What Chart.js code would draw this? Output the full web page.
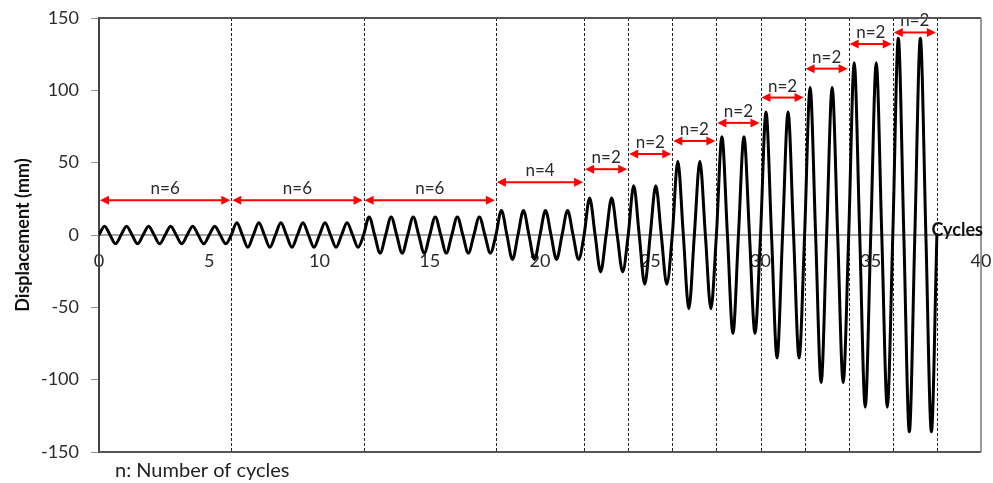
<!DOCTYPE html>
<html><head><meta charset="utf-8">
<script src="https://cdn.jsdelivr.net/npm/chart.js@4.4.1/dist/chart.umd.min.js"></script>
<style>html,body{margin:0;padding:0;background:#fff;} #wrap{width:993px;height:483px;}</style>
</head><body><div id="wrap"><canvas id="c" width="993" height="483"></canvas></div>
<script>
// ---- data ----
const groupStarts     = [0, 6, 12, 18, 22, 24, 26, 28, 30, 32, 34, 36];
const groupEnds       = [6, 12, 18, 22, 24, 26, 28, 30, 32, 34, 36, 38];
const groupCycles     = [6, 6, 6, 4, 2, 2, 2, 2, 2, 2, 2, 2];
const groupAmplitudes = [6, 8.5, 12.5, 17, 25.5, 34, 51, 68, 85, 102, 119, 136];
const arrowLevels     = [24, 24, 24, 36.5, 45.5, 56, 65, 77.5, 95, 115, 132, 140];
const arrowLabels     = ["n=6","n=6","n=6","n=4","n=2","n=2","n=2","n=2","n=2","n=2","n=2","n=2"];
const quarterPhases   = [0, 0.25, 0.5, 0.75];   // zero, peak, zero, trough within one cycle
const quarterSigns    = [0, 1, 0, -1];
const xTicks = [0, 5, 10, 15, 20, 25, 30, 35, 40];
const yTicks = [-150, -100, -50, 0, 50, 100, 150];

// displacement history table built from the values above
const history = [];
groupStarts.forEach((s, g) => {
  for (let c = 0; c < groupCycles[g]; c++) {
    quarterPhases.forEach((p, k) => history.push({x: s + c + p, y: quarterSigns[k] * groupAmplitudes[g]}));
  }
});
history.push({x: groupEnds[groupEnds.length - 1], y: 0});

const FONT = 'Lato, "Liberation Sans", sans-serif';
const TXT = '#2b2b2b';

const decor = {
  id: 'decor',
  beforeDatasetsDraw(chart) {
    const {ctx, chartArea: a, scales: {x}} = chart;
    ctx.save();
    ctx.strokeStyle = '#222';
    ctx.lineWidth = 1;
    ctx.setLineDash([3, 2]);
    groupEnds.forEach(b => {
      const px = Math.round(x.getPixelForValue(b)) + 0.5;
      ctx.beginPath(); ctx.moveTo(px, a.top); ctx.lineTo(px, a.bottom); ctx.stroke();
    });
    ctx.restore();
  },
  afterDatasetsDraw(chart) {
    const {ctx, scales: {x, y}} = chart;
    ctx.save();
    groupStarts.forEach((s, i) => {
      const x1 = x.getPixelForValue(s) + 1, x2 = x.getPixelForValue(groupEnds[i]) - 1;
      const py = y.getPixelForValue(arrowLevels[i]);
      const hl = 9, hw = 4.5;
      ctx.strokeStyle = '#ff0000'; ctx.fillStyle = '#ff0000'; ctx.lineWidth = 2;
      ctx.beginPath(); ctx.moveTo(x1 + hl - 1, py); ctx.lineTo(x2 - hl + 1, py); ctx.stroke();
      ctx.beginPath(); ctx.moveTo(x1, py); ctx.lineTo(x1 + hl, py - hw); ctx.lineTo(x1 + hl, py + hw); ctx.closePath(); ctx.fill();
      ctx.beginPath(); ctx.moveTo(x2, py); ctx.lineTo(x2 - hl, py - hw); ctx.lineTo(x2 - hl, py + hw); ctx.closePath(); ctx.fill();
      ctx.fillStyle = TXT; ctx.font = '17px ' + FONT; ctx.textAlign = 'center'; ctx.textBaseline = 'bottom';
      ctx.fillText(arrowLabels[i], (x1 + x2) / 2, py - 3);
    });
    ctx.restore();
  },
  afterDraw(chart) {
    const {ctx, chartArea: a, scales: {y}} = chart;
    ctx.save();
    ctx.strokeStyle = '#555'; ctx.lineWidth = 2;
    ctx.beginPath(); ctx.moveTo(a.left, a.top); ctx.lineTo(a.right, a.top); ctx.stroke();
    ctx.beginPath(); ctx.moveTo(a.left, a.bottom); ctx.lineTo(a.right, a.bottom); ctx.stroke();
    ctx.strokeStyle = '#777'; ctx.lineWidth = 1.5;
    ctx.beginPath(); ctx.moveTo(a.right, a.top); ctx.lineTo(a.right, a.bottom); ctx.stroke();
    ctx.fillStyle = '#111'; ctx.font = 'bold 18px ' + FONT; ctx.textAlign = 'right'; ctx.textBaseline = 'alphabetic';
    ctx.fillText('Cycles', a.right + 2, y.getPixelForValue(0) + 1);
    ctx.fillStyle = '#222'; ctx.font = '20px ' + FONT; ctx.textAlign = 'left'; ctx.textBaseline = 'middle';
    ctx.fillText('n: Number of cycles', 115, 471);
    ctx.restore();
  }
};

new Chart(document.getElementById('c'), {
  type: 'line',
  data: {
    datasets: [{
      data: history,
      borderColor: '#000',
      borderWidth: 3,
      pointRadius: 0,
      cubicInterpolationMode: 'monotone',
      fill: false
    }]
  },
  options: {
    responsive: false,
    animation: false,
    devicePixelRatio: 1,
    layout: {padding: {left: 0, right: 12, top: 18, bottom: 31}},
    plugins: {legend: {display: false}, tooltip: {enabled: false}},
    scales: {
      x: {
        type: 'linear',
        position: {y: 0},
        min: 0, max: 40,
        afterBuildTicks: s => { s.ticks = xTicks.map(v => ({value: v})); },
        afterFit: s => { s.paddingLeft = 0; s.paddingRight = 0; },
        grid: {display: false, drawTicks: false},
        border: {display: true, color: '#a6a6a6', width: 2},
        ticks: {color: TXT, font: {family: FONT, size: 18}, padding: 15, maxRotation: 0}
      },
      y: {
        type: 'linear',
        min: -150, max: 150,
        afterBuildTicks: s => { s.ticks = yTicks.map(v => ({value: v})); },
        afterFit: s => { s.width = 99; s.paddingTop = 0; s.paddingBottom = 0; },
        grid: {drawOnChartArea: false, drawTicks: true, tickLength: 8, color: '#999'},
        border: {display: true, color: '#444', width: 2},
        ticks: {color: TXT, font: {family: FONT, size: 18}, padding: 12},
        title: {display: true, text: 'Displacement (mm)', color: '#111', font: {family: FONT, size: 18, weight: 'bold'}, padding: {top: 12, bottom: 0}}
      }
    }
  },
  plugins: [decor]
});
</script>
</body></html>
